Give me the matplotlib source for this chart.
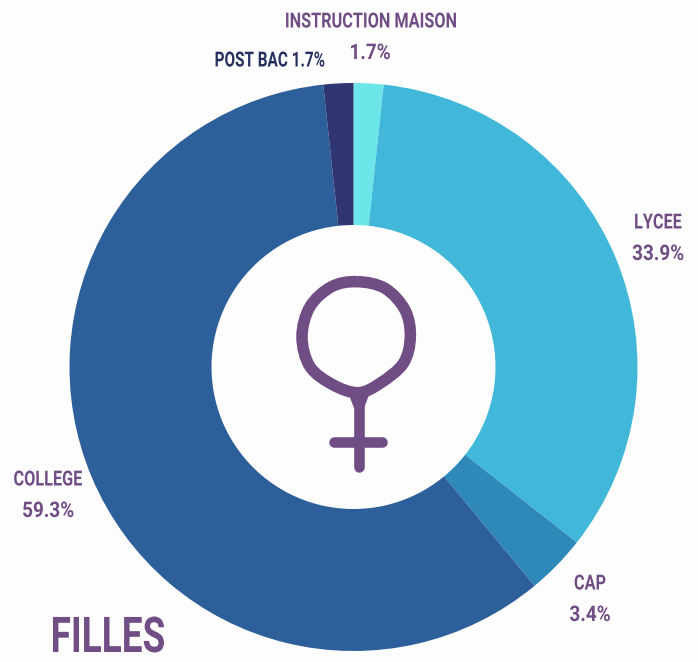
import matplotlib
matplotlib.use("Agg")
import matplotlib.pyplot as plt
import numpy as np
from matplotlib.path import Path
from matplotlib.patches import PathPatch
from matplotlib.patheffects import AbstractPathEffect
from matplotlib.transforms import Affine2D

categories = ["INSTRUCTION MAISON", "LYCEE", "CAP", "COLLEGE", "POST BAC"]
values = [1.7, 33.9, 3.4, 59.3, 1.7]
colours = ["#6be6e9", "#41b7d9", "#2e88ba", "#2d5f9a", "#2f3570"]
title = "FILLES"
purple = "#714d85"

W, H = 698, 662
plt.rcParams["font.family"] = ["Roboto", "DejaVu Sans"]
fig = plt.figure(figsize=(W / 100, H / 100), dpi=100, facecolor="#fdfdfd")
ax = fig.add_axes([0, 0, 1, 1])

# pie in pixel coords, y axis flipped so angles run clockwise from top
wedges, _ = ax.pie(values, colors=colours, center=(353.5, 367), radius=284,
                   startangle=-90, counterclock=True,
                   wedgeprops=dict(width=142, linewidth=0), frame=False)
ax.set_xlim(0, W)
ax.set_ylim(H, 0)
ax.set_aspect("equal")
ax.axis("off")


# no condensed font here, so squeeze the glyphs sideways around the text centre
class Squeeze(AbstractPathEffect):
    def __init__(self, cx, sx):
        super().__init__()
        self.cx = cx
        self.sx = sx

    def draw_path(self, renderer, gc, tpath, affine, rgbFace=None):
        t = affine + Affine2D().translate(-self.cx, 0).scale(self.sx, 1).translate(self.cx, 0)
        renderer.draw_path(gc, tpath, t, rgbFace)


def lab(x, y, s, c=purple, size=15, sx=0.78):
    return ax.text(x, y, s, ha="center", va="center", color=c, fontsize=size,
                   fontweight="bold", path_effects=[Squeeze(x, sx)])


def pct(x, y, v):
    return lab(x, y, "%.1f%%" % v, size=15.5, sx=0.88)


lab(371, 22, categories[0])
pct(370, 53, values[0])
lab(270, 61, "%s %.1f%%" % (categories[4], values[4]), c="#24305f", sx=0.735)
lab(658, 223, categories[1])
pct(658, 254, values[1])
lab(590, 584, categories[2])
pct(590, 615, values[2])
lab(48, 480, categories[3])
pct(48, 511, values[3])
lab(108, 639, title, size=35.5, sx=0.75)

# venus symbol, a bit lumpy like the original. points read from a zoom
ring = np.array([[262, 35], [345, 55], [405, 120], [421, 200], [400, 280], [330, 340],
                 [265, 368], [190, 345], [120, 290], [96, 200], [120, 110], [185, 50]]) / 3 + 270
n = len(ring)
verts = [ring[0]]
codes = [Path.MOVETO]
for i in range(n):
    p0, p1, p2, p3 = ring[i - 1], ring[i], ring[(i + 1) % n], ring[(i + 2) % n]
    verts += [p1 + (p2 - p0) / 6, p2 - (p3 - p1) / 6, p2]
    codes += [Path.CURVE4] * 3
ax.add_patch(PathPatch(Path(verts, codes), fill=False, edgecolor=purple, lw=8.3))
ax.plot([359, 359], [393, 466.7], color=purple, lw=7.6, solid_capstyle="round")
ax.plot([334.3, 382.3], [442, 442], color=purple, lw=7.6, solid_capstyle="round")
ax.fill([347, 371, 364, 354], [390, 390, 408, 408], color=purple, lw=0)
ax.fill([349, 359, 369, 359], [442, 432, 442, 452], color=purple, lw=0)

fig.savefig("out.png", dpi=100, facecolor=fig.get_facecolor())
